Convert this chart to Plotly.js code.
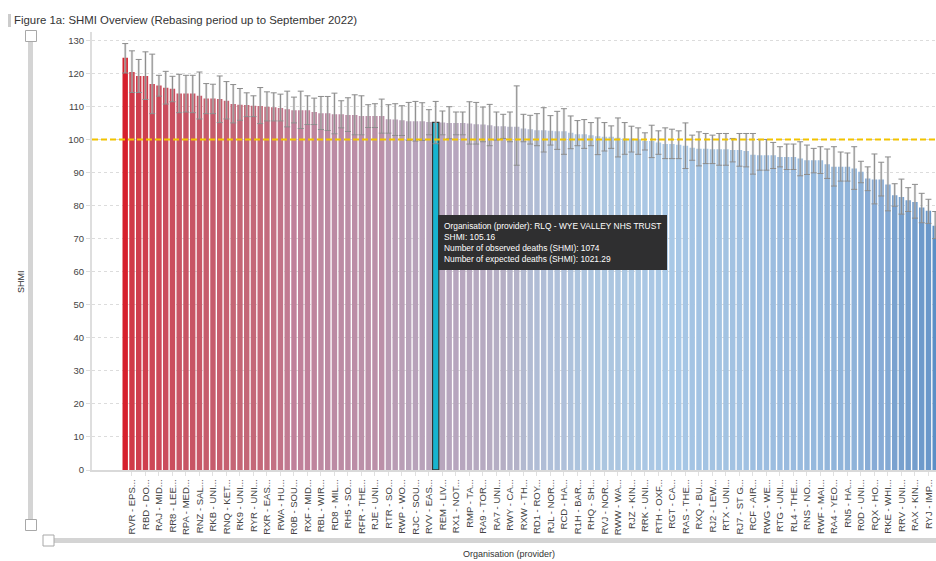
<!DOCTYPE html>
<html>
<head>
<meta charset="utf-8">
<script src="https://cdn.plot.ly/plotly-3.0.1.min.js"></script>
<style>
  html, body { margin: 0; padding: 0; background: #fff; }
  #chart { width: 936px; height: 561px; }
</style>
</head>
<body>
<div id="chart"></div>
<script>
// ---- DATA ----
const shmiValues = [
  124.7, 120.4, 119.2, 119.2, 116.8, 116.3, 115.6, 115.3, 113.9, 113.9,
  113.9, 113.2, 112.4, 112.4, 112.2, 111.7, 110.7, 110.5, 110.4, 110.2,
  110.1, 109.9, 109.7, 109.5, 109.1, 108.8, 108.8, 108.8, 108.3, 107.9,
  107.9, 107.6, 107.6, 107.4, 107.4, 107.1, 107.1, 107.1, 107.1, 106.1,
  106.0, 105.8, 105.5, 105.5, 105.5, 105.3, 105.16, 105.1, 105.0, 105.0,
  105.0, 104.8, 104.6, 104.5, 104.3, 104.0, 104.0, 103.8, 103.8, 103.3,
  103.1, 102.8, 102.8, 102.6, 102.5, 102.5, 102.0, 101.6, 101.6, 101.3,
  101.0, 100.8, 100.8, 100.5, 100.3, 100.3, 100.0, 99.5, 99.5, 99.1,
  98.6, 98.6, 98.4, 98.1, 97.5, 97.2, 97.2, 97.0, 97.0, 97.0,
  96.8, 96.8, 96.5, 95.4, 95.2, 95.2, 95.2, 94.7, 94.7, 94.7,
  94.2, 93.7, 93.7, 93.7, 92.5, 91.7, 91.7, 91.7, 91.2, 90.2,
  88.2, 87.9, 87.9, 86.4, 83.1, 82.6, 81.6, 81.1, 79.4, 78.4,
  73.9
];
const upperLimits = [
  129.0, 126.8, 124.2, 126.5, 125.8, 119.4, 120.6, 119.1, 119.7, 119.4,
  119.4, 120.4, 116.9, 116.7, 119.2, 117.5, 116.6, 115.4, 114.1, 113.2,
  115.7, 114.4, 114.1, 113.7, 114.6, 112.8, 114.6, 113.2, 112.5, 113.0,
  113.0, 114.0, 111.7, 112.6, 113.5, 113.2, 110.5, 110.8, 112.2, 110.5,
  110.8, 110.2, 111.2, 111.5, 111.1, 109.0, 111.5, 108.6, 109.9, 108.3,
  108.3, 111.4, 111.2, 109.8, 110.6, 108.3, 107.6, 108.3, 116.2, 107.6,
  107.3, 107.8, 109.6, 107.2, 108.5, 109.3, 107.1, 105.7, 106.0, 105.1,
  106.5, 105.1, 104.1, 106.5, 105.1, 104.0, 103.5, 102.0, 104.3, 102.6,
  103.5, 103.1, 102.6, 105.0, 101.3, 102.3, 101.8, 101.3, 101.8, 101.8,
  100.3, 101.8, 101.8, 101.8, 100.0, 100.0, 99.1, 97.8, 98.6, 98.6,
  99.3, 98.3, 97.3, 97.8, 97.1, 97.8, 96.2, 95.9, 97.8, 93.4,
  91.7, 95.6, 93.1, 94.7, 86.6, 88.0, 85.4, 86.4, 83.7, 81.9,
  78.2
];
const lowerLimits = [
  120.1, 114.2, 114.2, 112.1, 107.8, 113.1, 110.7, 111.4, 108.1, 108.3,
  108.1, 106.2, 107.8, 107.8, 105.1, 106.2, 105.0, 105.8, 106.9, 106.9,
  104.8, 105.6, 105.6, 105.6, 103.8, 105.0, 103.3, 104.5, 104.5, 103.0,
  102.7, 101.7, 103.5, 102.4, 101.4, 101.4, 103.6, 103.6, 101.9, 101.9,
  101.2, 101.2, 99.7, 99.5, 99.7, 101.4, 98.7, 101.4, 100.2, 101.4,
  101.4, 98.6, 98.6, 99.3, 98.1, 99.8, 100.3, 99.3, 92.2, 99.3,
  98.6, 98.1, 96.2, 98.3, 97.0, 95.5, 97.2, 98.1, 97.3, 98.1,
  95.4, 96.5, 97.3, 94.7, 95.5, 96.2, 95.5, 96.8, 94.5, 95.5,
  94.2, 94.2, 94.2, 91.2, 93.7, 92.0, 92.7, 92.7, 92.2, 92.2,
  93.2, 91.9, 91.7, 89.5, 90.7, 90.7, 91.2, 91.7, 90.9, 90.9,
  89.0, 89.4, 89.9, 89.7, 88.2, 85.9, 87.4, 87.4, 84.9, 86.9,
  84.5, 80.5, 82.9, 78.4, 79.8, 77.4, 78.2, 76.2, 74.8, 74.6,
  70.0
];
// Tick labels (every other organisation is labelled on the axis)
const tickLabels = [
  "RVR - EPS...", "RBD - DO...", "RAJ - MID...", "RR8 - LEE...", "RPA - MED...",
  "RNZ - SAL...", "RKB - UNI...", "RNQ - KET...", "RK9 - UNI...", "RYR - UNI...",
  "RXR - EAS...", "RWA - HU...", "R0B - SOU...", "RXF - MID...", "RBL - WIR...",
  "RD8 - MIL...", "RH5 - SO...", "RFR - THE...", "RJE - UNI...", "RTR - SO...",
  "RWP - WO...", "RJC - SOU...", "RVV - EAS...", "REM - LIV...", "RX1 - NOT...",
  "RMP - TA...", "RA9 - TOR...", "RA7 - UNI...", "RWY - CA...", "RXW - TH...",
  "RD1 - ROY...", "RJL - NOR...", "RCD - HA...", "R1H - BAR...", "RHQ - SH...",
  "RVJ - NOR...", "RWW - WA...", "RJZ - KIN...", "RRK - UNI...", "RTH - OXF...",
  "RGT - CA...", "RAS - THE...", "RXQ - BU...", "RJ2 - LEW...", "RTX - UNI...",
  "RJ7 - ST G...", "RCF - AIR...", "RWG - WE...", "RTG - UNI...", "RL4 - THE...",
  "RNS - NO...", "RWF - MAI...", "RA4 - YEO...", "RN5 - HA...", "R0D - UNI...",
  "RQX - HO...", "RKE - WHI...", "RRV - UNI...", "RAX - KIN...", "RYJ - IMP..."
];
const benchmark = 100;
const selectedIndex = 46;
const selectedName = "RLQ - WYE VALLEY NHS TRUST";
const selectedShmi = 105.16;
const selectedObserved = 1074;
const selectedExpected = 1021.29;

// ---- derived ----
const ranks = shmiValues.map((_, i) => i);
const errPlus = shmiValues.map((v, i) => +(upperLimits[i] - v).toFixed(3));
const errMinus = shmiValues.map((v, i) => +(v - lowerLimits[i]).toFixed(3));
const tickPos = tickLabels.map((_, i) => 2 * i + 1);

// ---- geometry helpers (pixel -> paper) ----
const L = 92, R = 936, T = 32, B = 470;
const px = X => (X - L) / (R - L);
const py = Y => (B - Y) / (B - T);

const colorscale = [
  [0.000, '#5c8fc6'],
  [0.108, '#6e9acb'],
  [0.181, '#7aa2cf'],
  [0.281, '#88acd6'],
  [0.350, '#90b4da'],
  [0.400, '#98bade'],
  [0.451, '#a2c2e2'],
  [0.486, '#a8c8e6'],
  [0.533, '#acc6e0'],
  [0.563, '#afc0da'],
  [0.581, '#b2b8cf'],
  [0.593, '#b5aec4'],
  [0.618, '#b8a4bc'],
  [0.654, '#bb90a8'],
  [0.687, '#c0809a'],
  [0.713, '#c46878'],
  [0.787, '#c85565'],
  [0.829, '#cc4a5a'],
  [0.915, '#d03a48'],
  [1.000, '#d61f2c']
];

const mainBars = {
  type: 'bar', x: ranks, y: shmiValues,
  marker: { color: shmiValues, colorscale: colorscale,
            cmin: Math.min(...shmiValues), cmax: Math.max(...shmiValues),
            line: { width: 0 } },
  hoverinfo: 'skip'
};
const selectedBar = {
  type: 'bar', x: [ranks[selectedIndex]], y: [shmiValues[selectedIndex]],
  width: 0.95,
  marker: { color: '#17b4cf', line: { color: '#333333', width: 1.3 } },
  hoverinfo: 'skip'
};
const errBand = {
  type: 'bar', x: ranks, y: shmiValues,
  marker: { color: 'rgba(0,0,0,0)', line: { width: 0 } },
  error_y: { type: 'data', symmetric: false, array: errPlus, arrayminus: errMinus,
             color: 'rgba(205,205,205,0.6)', thickness: 2.5, width: 0 },
  hoverinfo: 'skip'
};
const errLine = {
  type: 'bar', x: ranks, y: shmiValues,
  marker: { color: 'rgba(0,0,0,0)', line: { width: 0 } },
  error_y: { type: 'data', symmetric: false, array: errPlus, arrayminus: errMinus,
             color: '#8c8c8c', thickness: 1, width: 3 },
  hoverinfo: 'skip'
};

const tooltipText = [
  'Organisation (provider): ' + selectedName,
  'SHMI: ' + selectedShmi,
  'Number of observed deaths (SHMI): ' + selectedObserved,
  'Number of expected deaths (SHMI): ' + selectedExpected
].join('<br>');

const layout = {
  width: 936, height: 561,
  margin: { l: L, r: 936 - R, t: T, b: 561 - B, pad: 0 },
  paper_bgcolor: '#ffffff', plot_bgcolor: '#ffffff',
  font: { family: '"Liberation Sans", Arial, sans-serif', color: '#444' },
  barmode: 'overlay', bargap: 0.2,
  showlegend: false, hovermode: false,
  title: {
    text: 'Figure 1a: SHMI Overview (Rebasing period up to September 2022)',
    x: 14 / 936, xref: 'container', xanchor: 'left',
    y: 1 - 20 / 561, yref: 'container', yanchor: 'middle',
    font: { size: 11.4, color: '#333' }
  },
  xaxis: {
    range: [-4.92, 120.12],
    tickmode: 'array', tickvals: tickPos, ticktext: tickLabels,
    tickangle: -90, tickfont: { size: 9.5, color: '#444' },
    ticks: 'outside', ticklen: 4, tickcolor: '#e0e0e0',
    showgrid: false, zeroline: false,
    showline: true, linecolor: '#d9d9d9', linewidth: 1.5,
    fixedrange: true
  },
  yaxis: {
    range: [0, 132.5], tick0: 0, dtick: 10,
    tickfont: { size: 9.5, color: '#444' },
    ticks: 'outside', ticklen: 4, tickcolor: '#dddddd',
    showgrid: true, gridcolor: '#dcdcdc', griddash: 'dot', gridwidth: 1,
    zeroline: false, showline: true, linecolor: '#dedede', linewidth: 2,
    fixedrange: true
  },
  shapes: [
    { type: 'line', xref: 'paper', x0: 0, x1: 1, yref: 'y', y0: benchmark, y1: benchmark,
      line: { color: '#f2c300', width: 2, dash: '6px,3px' }, layer: 'above' },
    // title marker
    { type: 'rect', xref: 'paper', yref: 'paper', x0: px(8), x1: px(11), y0: py(27), y1: py(14),
      fillcolor: '#cccccc', line: { width: 0 } },
    // vertical slider track + handles
    { type: 'rect', xref: 'paper', yref: 'paper', x0: px(28), x1: px(33), y0: py(525), y1: py(36),
      fillcolor: '#d4d4d4', line: { width: 0 } },
    { type: 'rect', xref: 'paper', yref: 'paper', x0: px(25.5), x1: px(36.5), y0: py(41.5), y1: py(30.5),
      fillcolor: '#ffffff', line: { color: '#a8a8a8', width: 1 } },
    { type: 'rect', xref: 'paper', yref: 'paper', x0: px(25.5), x1: px(36.5), y0: py(530.5), y1: py(519.5),
      fillcolor: '#ffffff', line: { color: '#a8a8a8', width: 1 } },
    // horizontal slider track + handle
    { type: 'rect', xref: 'paper', yref: 'paper', x0: px(54), x1: px(936), y0: py(543), y1: py(538),
      fillcolor: '#d4d4d4', line: { width: 0 } },
    { type: 'rect', xref: 'paper', yref: 'paper', x0: px(43), x1: px(54), y0: py(546), y1: py(535),
      fillcolor: '#ffffff', line: { color: '#a8a8a8', width: 1 } }
  ],
  annotations: [
    { text: 'SHMI', xref: 'paper', yref: 'paper', x: px(14), y: py(282),
      textangle: -90, showarrow: false, font: { size: 9, color: '#333' } },
    { text: 'Organisation (provider)', xref: 'paper', yref: 'paper', x: px(509), y: py(561),
      xanchor: 'center', yanchor: 'bottom', showarrow: false, font: { size: 9, color: '#333' } },
    { text: tooltipText, xref: 'paper', yref: 'paper', x: px(438), y: py(215),
      xanchor: 'left', yanchor: 'top', align: 'left', showarrow: false,
      bgcolor: '#2f2f30', bordercolor: '#2f2f30', borderwidth: 1, borderpad: 5,
      font: { size: 8.4, color: '#ffffff' } }
  ]
};

Plotly.newPlot('chart', [mainBars, selectedBar, errBand, errLine], layout,
  { displayModeBar: false, staticPlot: true });
</script>
</body>
</html>
